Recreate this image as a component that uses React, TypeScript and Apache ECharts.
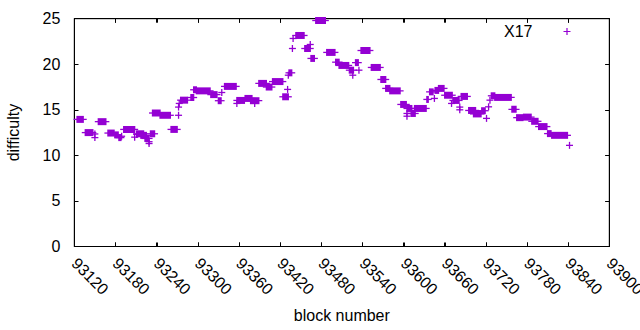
import React, { useEffect, useRef } from "react";
import * as echarts from "echarts";

// Runs of consecutive blocks sharing one difficulty (single points: start === end)
const blockStart = [
  93124, 93136, 93150, 93150, 93155, 93169, 93179, 93185, 93189, 93192,
  93208, 93211, 93211, 93217, 93223, 93229, 93229, 93231, 93234, 93245,
  93261, 93272, 93272, 93273, 93275, 93290, 93294, 93298, 93319, 93330,
  93335, 93339, 93357, 93357, 93369, 93377, 93383, 93389, 93400, 93409,
  93424, 93431, 93432, 93433, 93438, 93439, 93443, 93456, 93464, 93465,
  93472, 93488, 93501, 93506, 93521, 93526, 93530, 93535, 93538, 93553,
  93567, 93574, 93580, 93596, 93605, 93605, 93605, 93611, 93616, 93634,
  93638, 93645, 93646, 93651, 93660, 93670, 93672, 93682, 93682, 93684,
  93695, 93702, 93714, 93721, 93724, 93726, 93728, 93733, 93758, 93765,
  93775, 93787, 93797, 93810, 93816, 93842,
];
const blockEnd = [
  93133, 93147, 93150, 93150, 93166, 93178, 93184, 93188, 93189, 93208,
  93208, 93211, 93221, 93225, 93229, 93229, 93229, 93237, 93245, 93260,
  93270, 93272, 93272, 93273, 93285, 93294, 93298, 93318, 93328, 93334,
  93335, 93356, 93357, 93368, 93379, 93389, 93383, 93400, 93408, 93424,
  93432, 93431, 93432, 93437, 93438, 93439, 93455, 93464, 93464, 93470,
  93486, 93500, 93506, 93520, 93527, 93526, 93534, 93535, 93551, 93566,
  93574, 93580, 93595, 93604, 93612, 93605, 93605, 93617, 93633, 93636,
  93643, 93645, 93651, 93659, 93671, 93670, 93681, 93682, 93682, 93693,
  93705, 93713, 93719, 93721, 93724, 93726, 93733, 93757, 93764, 93774,
  93786, 93796, 93809, 93815, 93839, 93842,
];
const difficulty = [
  13.95, 12.5, 12.35, 11.95, 13.7, 12.45, 12.25, 11.95, 12.1, 12.85,
  12.0, 12.3, 12.37, 12.2, 11.86, 11.5, 11.3, 12.37, 14.65, 14.4,
  12.85, 14.4, 15.3, 15.7, 16.06, 16.35, 17.2, 17.08, 16.67, 16.0,
  16.9, 17.57, 15.7, 16.03, 16.25, 16.0, 15.7, 17.9, 17.5, 18.1,
  16.43, 17.24, 18.8, 19.06, 21.73, 22.83, 23.16, 21.73, 22.17, 20.64,
  24.8, 21.3, 20.23, 19.87, 19.35, 18.8, 20.18, 19.35, 21.51, 19.65,
  18.33, 17.35, 17.08, 15.59, 15.15, 14.6, 14.3, 14.6, 15.15, 16.14,
  16.97, 16.25, 17.13, 17.35, 16.6, 15.7, 16.03, 15.3, 15.0, 16.47,
  14.93, 14.55, 14.9, 14.06, 15.33, 16.06, 16.54, 16.36, 15.05, 14.14,
  14.2, 13.74, 13.16, 12.39, 12.2, 11.1,
];

const seriesName = "X17";
const xMin = 93120;
const xMax = 93900;
const xStep = 60;
const yMin = 0;
const yMax = 25;
const yStep = 5;

const COLOR = "#9400d3";
const FONT = "Liberation Sans, Arial, sans-serif";
const PLUS = "path://M0,29H70V41H0ZM29,0H41V70H29Z";
const TICK = 4;

const mkLine = () => ({ show: true, onZero: false, lineStyle: { color: "#000", width: 1 } });
const mkTick = () => ({ show: true, inside: true, length: TICK, lineStyle: { color: "#000", width: 1 } });

export default function App() {
  const ref = useRef<HTMLDivElement>(null);

  useEffect(() => {
    if (!ref.current) return;
    const chart = echarts.init(ref.current, null, { renderer: "svg" });
    const rows = blockStart.map((s, i) => [s, blockEnd[i], difficulty[i]]);
    const labelStyle = { fontSize: 16, color: "#000", fontFamily: FONT };

    chart.setOption({
      animation: false,
      grid: {
        left: 74.3,
        right: 30.7,
        top: 18.7,
        bottom: 83.5,
        containLabel: false,
        outerBoundsMode: "none",
        show: true,
        borderColor: "#000",
        borderWidth: 1,
        backgroundColor: "transparent",
      },
      legend: {
        data: [{ name: seriesName, icon: PLUS }],
        right: 69.5,
        top: 23.5,
        padding: 0,
        align: "right",
        itemWidth: 7,
        itemHeight: 7,
        textStyle: { ...labelStyle, padding: [0, 26, 0, 0] },
      },
      xAxis: [
        {
          type: "value",
          position: "bottom",
          min: xMin,
          max: xMax,
          interval: xStep,
          axisLine: mkLine(),
          axisTick: mkTick(),
          splitLine: { show: false },
          axisLabel: {
            ...labelStyle,
            rotate: -45,
            margin: 14,
            showMinLabel: true,
            showMaxLabel: true,
            hideOverlap: false,
            formatter: (v: number) => String(v),
          },
          name: "block number",
          nameLocation: "middle",
          nameGap: 61,
          nameTextStyle: { ...labelStyle },
        },
        {
          type: "value",
          position: "top",
          min: xMin,
          max: xMax,
          interval: xStep,
          axisLine: mkLine(),
          axisTick: mkTick(),
          splitLine: { show: false },
          axisLabel: { show: false },
        },
      ],
      yAxis: [
        {
          type: "value",
          position: "left",
          min: yMin,
          max: yMax,
          interval: yStep,
          axisLine: mkLine(),
          axisTick: mkTick(),
          splitLine: { show: false },
          axisLabel: { ...labelStyle, margin: 14 },
          name: "difficulty",
          nameLocation: "middle",
          nameGap: 53,
          nameTextStyle: { ...labelStyle },
        },
        {
          type: "value",
          position: "right",
          min: yMin,
          max: yMax,
          interval: yStep,
          axisLine: mkLine(),
          axisTick: mkTick(),
          splitLine: { show: false },
          axisLabel: { show: false },
        },
      ],
      series: [
        {
          name: seriesName,
          type: "custom",
          xAxisIndex: 0,
          yAxisIndex: 0,
          clip: false,
          z: 5,
          itemStyle: { color: COLOR },
          encode: { x: [0, 1], y: 2 },
          data: rows,
          renderItem: (params: any, api: any) => {
            const s = api.coord([api.value(0), api.value(2)]);
            const e = api.coord([api.value(1), api.value(2)]);
            const h = 3.5;
            const lw = 1.3;
            return {
              type: "group",
              children: [
                {
                  type: "rect",
                  shape: { x: s[0] - lw / 2, y: s[1] - h, width: e[0] - s[0] + lw, height: 2 * h },
                  style: { fill: COLOR },
                },
                {
                  type: "rect",
                  shape: { x: s[0] - h, y: s[1] - lw / 2, width: e[0] - s[0] + 2 * h, height: lw },
                  style: { fill: COLOR },
                },
              ],
            };
          },
        },
      ],
    });

    // Mirrored inward tick marks on all four borders, placed through the axes' own scales
    const px = (v: number) => chart.convertToPixel({ xAxisIndex: 0 }, v) as number;
    const py = (v: number) => chart.convertToPixel({ yAxisIndex: 0 }, v) as number;
    const left = px(xMin);
    const right = px(xMax);
    const bottom = py(yMin);
    const top = py(yMax);
    const ticks: any[] = [];
    const stroke = { stroke: "#000", lineWidth: 1 };
    for (let v = xMin + xStep; v < xMax; v += xStep) {
      const x = Math.round(px(v)) + 0.5;
      ticks.push({ type: "line", silent: true, shape: { x1: x, y1: bottom, x2: x, y2: bottom - TICK }, style: stroke });
      ticks.push({ type: "line", silent: true, shape: { x1: x, y1: top, x2: x, y2: top + TICK }, style: stroke });
    }
    for (let v = yMin + yStep; v < yMax; v += yStep) {
      const y = Math.round(py(v)) + 0.5;
      ticks.push({ type: "line", silent: true, shape: { x1: left, y1: y, x2: left + TICK, y2: y }, style: stroke });
      ticks.push({ type: "line", silent: true, shape: { x1: right, y1: y, x2: right - TICK, y2: y }, style: stroke });
    }
    chart.setOption({ graphic: { elements: ticks } });

    return () => chart.dispose();
  }, []);

  return (
    <div
      ref={ref}
      style={{ position: "fixed", left: 0, top: 0, width: 640, height: 330, background: "#fff" }}
    />
  );
}
